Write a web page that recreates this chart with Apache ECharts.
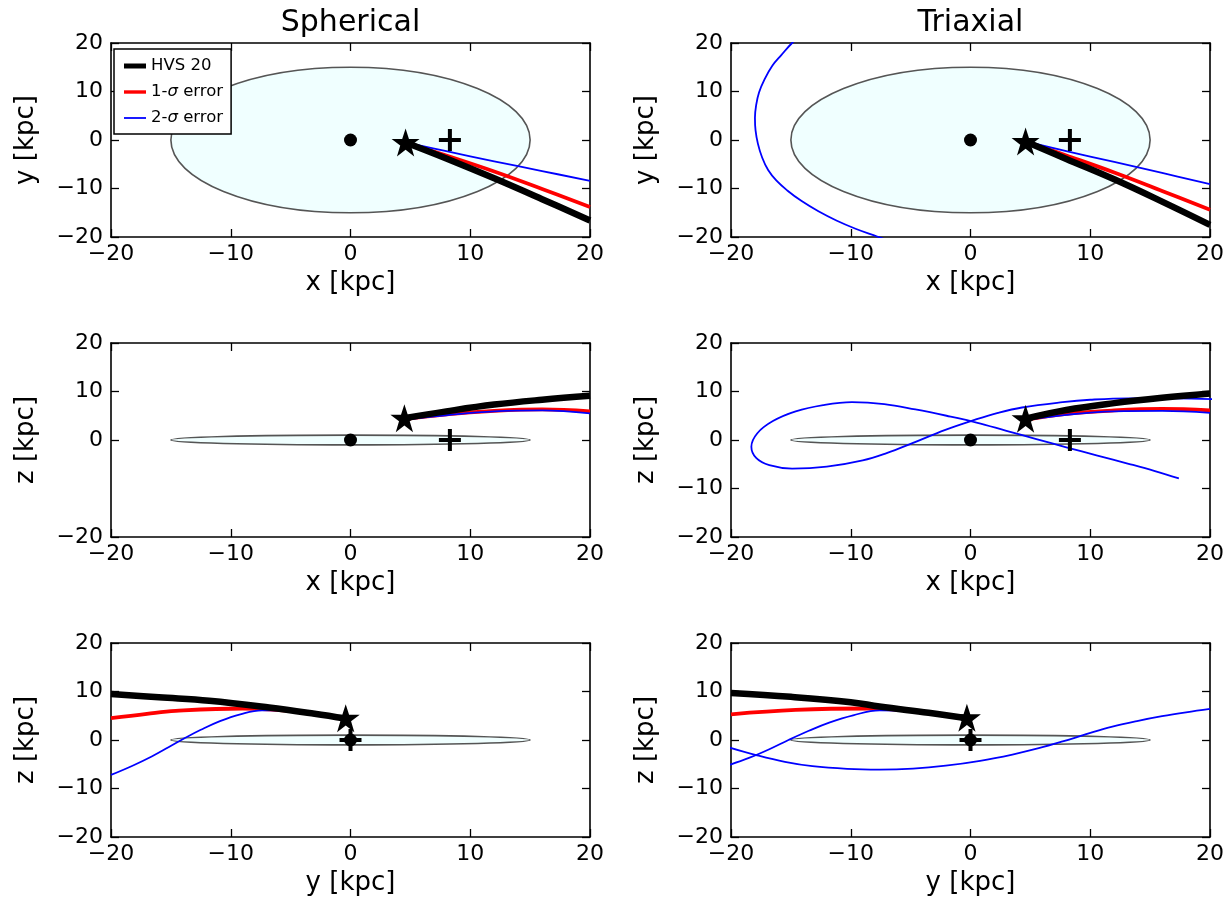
<!DOCTYPE html>
<html><head><meta charset="utf-8">
<script src="https://cdn.jsdelivr.net/npm/echarts@6/dist/echarts.min.js"></script>
<style>html,body{margin:0;padding:0;background:#fff}#c{width:1228px;height:899px}</style>
</head><body><div id="c"></div>
<script>
// ---------- data ----------
const tickValues = [-20, -10, 0, 10, 20];
const middleLeftYTicks = [-20, 0, 10, 20];   // the x-z spherical panel shows no -10 tick
const columnTitles = ['Spherical', 'Triaxial'];
const rowAxisNames = [['x [kpc]', 'y [kpc]'], ['x [kpc]', 'z [kpc]'], ['y [kpc]', 'z [kpc]']];
const legendNames = ['HVS 20', '1-σ error', '2-σ error'];

// panels: 0 sph x-y, 1 tri x-y, 2 sph x-z, 3 tri x-z, 4 sph y-z, 5 tri y-z
const galacticCentre = [[0, 0], [0, 0], [0, 0], [0, 0], [0, 0], [0, 0]];
const sunPosition = [[8.3, 0], [8.3, 0], [8.3, 0], [8.3, 0], [0, 0], [0, 0]];
const hvsPosition = [[4.6, -0.5], [4.6, -0.3], [4.5, 4.5], [4.6, 4.4], [-0.4, 4.5], [-0.3, 4.6]];
// disc ellipse: centre x, centre y, semi-axis along horizontal, semi-axis along vertical
const discEllipse = [[0, 0, 15, 15], [0, 0, 15, 15], [0, 0, 15, 1], [0, 0, 15, 1], [0, 0, 15, 1], [0, 0, 15, 1]];

const hvsTrack = [
  [[4.6,-0.5],[8,-3.8],[12,-7.9],[16,-12.2],[20,-16.6]],
  [[4.6,-0.3],[8,-3.9],[12,-8.1],[16,-12.7],[20,-17.5]],
  [[4.5,4.5],[8,5.9],[12,7.3],[16,8.3],[20,9.1]],
  [[4.6,4.4],[8,6.2],[12,7.6],[16,8.7],[20,9.6]],
  [[-20,9.5],[-16,8.8],[-11.8,8.1],[-6.8,6.7],[-3,5.4],[-0.4,4.4]],
  [[-20,9.7],[-15,8.9],[-10,7.8],[-7.6,6.9],[-3.5,5.6],[-0.3,4.5]]
];
const sigma1Track = [
  [[4.6,-0.5],[8,-3.2],[12,-6.5],[16,-10.1],[20,-13.8]],
  [[4.6,-0.3],[8,-3.2],[12,-6.7],[16,-10.5],[20,-14.4]],
  [[4.5,4.3],[8,5.3],[12,6.0],[16,6.3],[20,5.9]],
  [[4.6,4.2],[8,5.4],[12,6.1],[16,6.4],[20,6.1]],
  [[-20,4.5],[-17,5.4],[-14.6,6.0],[-9,6.5],[-3.5,5.7],[-0.4,4.4]],
  [[-20,5.3],[-14.6,6.2],[-8.5,6.5],[-3.5,5.7],[-0.3,4.5]]
];
const sigma2TrackA = [
  [[4.6,-0.5],[8,-2.3],[12,-4.4],[16,-6.4],[20,-8.45]],
  [[4.6,-0.3],[8,-2.3],[12,-4.5],[16,-6.8],[20,-9.1]],
  [[4.5,4.2],[8,5.1],[12,5.9],[16,6.1],[20,5.5]],
  [[4.6,4.1],[8,5.2],[12,5.9],[16,6.0],[20,5.6]],
  [[-20,-7.2],[-18.2,-5.3],[-16.6,-3.4],[-15.2,-1.5],[-13.9,0.3],[-12.5,2.1],[-10.9,3.9],[-9.2,5.3],[-7.4,6.1],[-5.5,6.1],[-3.2,5.5],[-0.4,4.4]],
  [[-20.2,-5.2],[-18.5,-3.7],[-16.8,-1.9],[-15.2,0.0],[-13.5,1.9],[-11.8,3.6],[-9.8,5.1],[-7.6,6.1],[-5.3,6.0],[-2.8,5.3],[-0.3,4.5]]
];
const sigma2TrackB = [
  [],
  [[-14.2,21.5],[-14.9,20],[-15.8,17.5],[-16.55,15.3],[-17.2,12.5],[-17.66,9.8],[-17.9,7.2],[-18.0,4.6],[-17.95,2.0],[-17.75,-0.8],[-17.4,-3.6],[-16.9,-6.2],[-16.2,-8.4],[-15.3,-10.4],[-14.1,-12.6],[-12.7,-14.7],[-11.2,-16.6],[-9.6,-18.3],[-7.8,-19.9],[-6.8,-20.8]],
  [],
  [[20.5,8.4],[17,8.6],[13.2,8.6],[10,8.3],[7.7,7.8],[4.3,6.7],[2.3,5.6],[0.4,4.2],[-2.1,2.1],[-4.9,-0.7],[-7,-2.7],[-9.0,-4.2],[-12.0,-5.5],[-14.9,-5.9],[-16.8,-5.2],[-17.9,-3.7],[-18.3,-1.4],[-17.8,1.4],[-16.5,3.9],[-14.6,5.9],[-12.3,7.2],[-9.9,7.8],[-7.2,7.4],[-4.6,6.3],[-2.0,5.0],[0.5,3.6],[3.0,1.9],[5.5,0.2],[8.0,-1.5],[10.6,-3.2],[13.2,-4.9],[15.4,-6.4],[17.4,-7.9]],
  [],
  [[-20.2,-1.5],[-17.9,-3.1],[-15.5,-4.5],[-13.2,-5.4],[-10.3,-5.95],[-7.6,-6.1],[-4.8,-5.9],[-2.07,-5.3],[0.8,-4.3],[3.5,-3.0],[5.7,-1.7],[7.7,-0.3],[9.8,1.3],[11.85,2.75],[14,3.95],[16,4.9],[18,5.7],[20,6.4]]
];

// ---------- layout / style ----------
const FONT = 'DejaVu Sans';
const colLeft = [111, 731];
const rowTop = [43, 343, 643];
const PW = 479, PH = 194;
const STAR = 'path://M12,0L14.9,8.6L24,8.6L16.6,14L19.4,22.8L12,17.4L4.6,22.8L7.4,14L0,8.6L9.1,8.6Z';
const PLUS = 'path://M9,0h4v9h9v4h-9v9h-4v-9h-9v-4h9z';
const minus = v => v < 0 ? '\u2212' + Math.abs(v) : String(v);

const grid = [], xAxis = [], yAxis = [], series = [];
for (let p = 0; p < 6; p++) {
  const r = Math.floor(p / 2), c = p % 2;
  grid.push({left: colLeft[c], top: rowTop[r], width: PW, height: PH, outerBoundsMode: 'none', containLabel: false});
  const common = {
    type: 'value', min: tickValues[0], max: tickValues[tickValues.length - 1], interval: 10, gridIndex: p,
    splitLine: {show: false},
    axisLine: {show: true, onZero: false, lineStyle: {color: '#000', width: 1.6}},
    axisTick: {show: true, inside: true, length: 8, lineStyle: {color: '#000', width: 1.3}}
  };
  const yTicks = p === 2 ? middleLeftYTicks : tickValues;
  xAxis.push(Object.assign({}, common, {
    position: 'bottom', name: rowAxisNames[r][0], nameLocation: 'middle', nameGap: 33,
    nameTextStyle: {fontFamily: FONT, fontSize: 26, color: '#000'},
    axisLabel: {fontFamily: FONT, fontSize: 22, color: '#000', margin: 6, formatter: minus, showMinLabel: true, showMaxLabel: true}
  }));
  xAxis.push(Object.assign({}, common, {position: 'top', axisLabel: {show: false}}));
  const yTick = {show: true, inside: true, length: 8, lineStyle: {color: '#000', width: 1.3}, customValues: yTicks};
  yAxis.push(Object.assign({}, common, {
    position: 'left', name: rowAxisNames[r][1], nameLocation: 'middle', nameGap: 72, nameRotate: 90,
    nameTextStyle: {fontFamily: FONT, fontSize: 26, color: '#000'},
    axisTick: yTick,
    axisLabel: {fontFamily: FONT, fontSize: 22, color: '#000', margin: 8, showMinLabel: true, showMaxLabel: true,
      customValues: yTicks, formatter: minus}
  }));
  yAxis.push(Object.assign({}, common, {position: 'right', axisTick: yTick, axisLabel: {show: false}}));
  const xi = p * 2, yi = p * 2;

  series.push({
    type: 'custom', name: 'disc', xAxisIndex: xi, yAxisIndex: yi, z: 1, silent: true,
    data: [discEllipse[p]], encode: {x: 0, y: 1},
    renderItem: (params, api) => {
      const ctr = api.coord([api.value(0), api.value(1)]);
      const sz = api.size([api.value(2), api.value(3)]);
      return {type: 'ellipse', shape: {cx: ctr[0], cy: ctr[1], rx: sz[0], ry: sz[1]},
        style: {fill: '#f0ffff', stroke: '#555555', lineWidth: 1.6}};
    }
  });
  const lineS = (name, data, color, width, z) => ({
    type: 'line', name, xAxisIndex: xi, yAxisIndex: yi, data, smooth: 0.4, showSymbol: false, symbol: 'none',
    z, clip: true, lineStyle: {color, width, cap: 'butt', join: 'round'}, itemStyle: {color}, emphasis: {disabled: true}
  });
  if (sigma2TrackB[p].length) series.push(lineS(legendNames[2], sigma2TrackB[p], '#0000ff', 1.8, 2));
  series.push(lineS(legendNames[1], sigma1Track[p], '#ff0000', 3.8, 3));
  series.push(lineS(legendNames[2], sigma2TrackA[p], '#0000ff', 1.8, 3));
  series.push(lineS(legendNames[0], hvsTrack[p], '#000000', 6.5, 4));
  const markerStyle = {color: '#000', opacity: 1};
  series.push({type: 'scatter', name: 'GC', xAxisIndex: xi, yAxisIndex: yi, z: 5, data: [galacticCentre[p]],
    symbol: 'circle', symbolSize: 13, itemStyle: markerStyle, emphasis: {disabled: true}});
  series.push({type: 'scatter', name: 'Sun', xAxisIndex: xi, yAxisIndex: yi, z: 5, data: [sunPosition[p]],
    symbol: PLUS, symbolSize: 22, itemStyle: markerStyle, emphasis: {disabled: true}});
  series.push({type: 'scatter', name: 'HVS', xAxisIndex: xi, yAxisIndex: yi, z: 6, data: [hvsPosition[p]],
    symbol: STAR, symbolSize: 28, itemStyle: markerStyle, emphasis: {disabled: true}});
}

const option = {
  backgroundColor: '#ffffff',
  animation: false,
  title: columnTitles.map((t, c) => ({
    text: t, left: colLeft[c] + PW / 2 - 5, top: 3, textAlign: 'center',
    textStyle: {fontFamily: FONT, fontSize: 30, fontWeight: 'normal', color: '#000'}
  })),
  legend: {
    orient: 'vertical', left: 114, top: 49, selectedMode: false,
    backgroundColor: '#fff', borderColor: '#000', borderWidth: 1.5, borderRadius: 0,
    padding: [8, 8, 7, 10], itemGap: 8, itemWidth: 22, itemHeight: 10,
    data: [
      {name: legendNames[0], icon: 'path://M0,0M0,2.5h22v5h-22zM22,10'},
      {name: legendNames[1], icon: 'path://M0,0M0,3.3h22v3.4h-22zM22,10'},
      {name: legendNames[2], icon: 'path://M0,0M0,4.1h22v1.8h-22zM22,10'}
    ],
    formatter: n => n.replace('σ', '{s|σ}'),
    textStyle: {fontFamily: FONT, fontSize: 16.5, color: '#000', lineHeight: 18,
      rich: {s: {fontFamily: FONT, fontStyle: 'italic', fontSize: 16.5, color: '#000', lineHeight: 18}}}
  },
  grid, xAxis, yAxis, series
};
const chart = echarts.init(document.getElementById('c'), null, {renderer: 'canvas'});
chart.setOption(option);
</script></body></html>
